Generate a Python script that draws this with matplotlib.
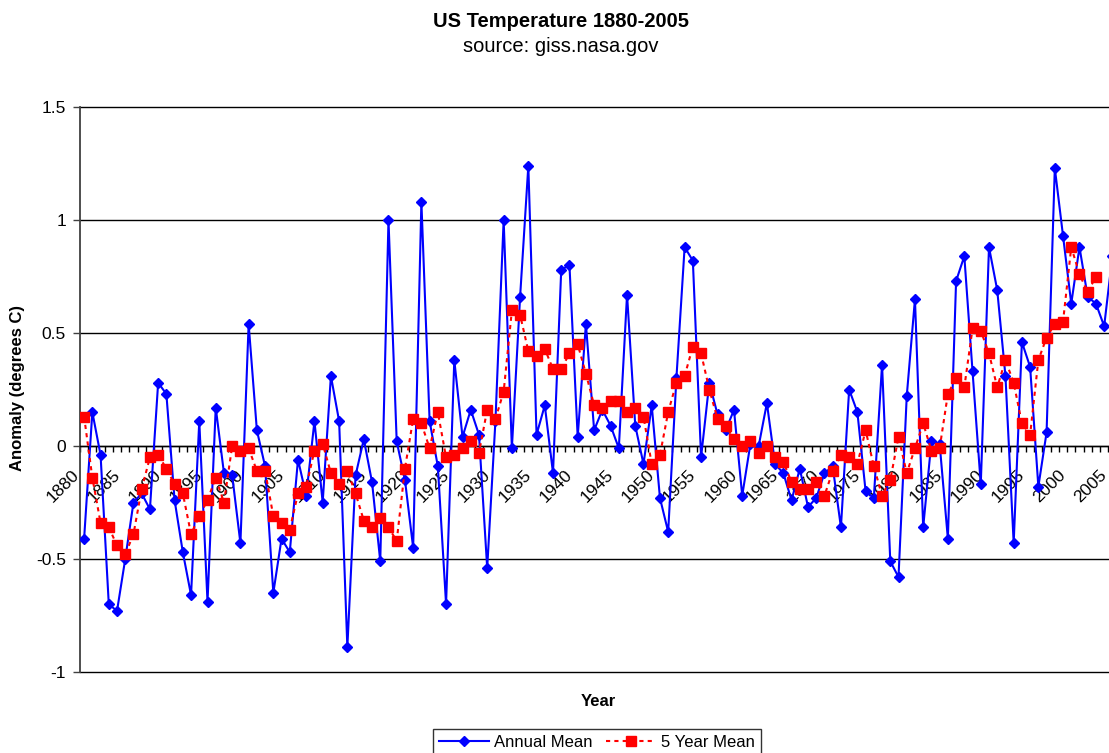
import matplotlib
matplotlib.use("Agg")
import matplotlib.pyplot as plt
from matplotlib.transforms import ScaledTranslation
import numpy as np

plt.rcParams['font.family'] = ['Liberation Sans', 'DejaVu Sans']

years = list(range(1880, 2006))
annual_mean = [
    -0.41, 0.15, -0.04, -0.70, -0.73, -0.50, -0.25, -0.21, -0.28, 0.28,
    0.23, -0.24, -0.47, -0.66, 0.11, -0.69, 0.17, -0.12, -0.13, -0.43,
    0.54, 0.07, -0.09, -0.65, -0.41, -0.47, -0.06, -0.22, 0.11, -0.25,
    0.31, 0.11, -0.89, -0.13, 0.03, -0.16, -0.51, 1.00, 0.02, -0.15,
    -0.45, 1.08, 0.11, -0.09, -0.70, 0.38, 0.04, 0.16, 0.05, -0.54,
    0.11, 1.00, -0.01, 0.66, 1.24, 0.05, 0.18, -0.12, 0.78, 0.80,
    0.04, 0.54, 0.07, 0.16, 0.09, -0.01, 0.67, 0.09, -0.08, 0.18,
    -0.23, -0.38, 0.30, 0.88, 0.82, -0.05, 0.28, 0.14, 0.07, 0.16,
    -0.22, 0.01, 0.00, 0.19, -0.08, -0.12, -0.24, -0.10, -0.27, -0.23,
    -0.12, -0.09, -0.36, 0.25, 0.15, -0.20, -0.23, 0.36, -0.51, -0.58,
    0.22, 0.65, -0.36, 0.02, 0.01, -0.41, 0.73, 0.84, 0.33, -0.17,
    0.88, 0.69, 0.31, -0.43, 0.46, 0.35, -0.18, 0.06, 1.23, 0.93,
    0.63, 0.88, 0.66, 0.63, 0.53, 0.84,
]

mean_years = list(range(1880, 2004))
five_year_mean = [
    0.13, -0.14, -0.34, -0.36, -0.44, -0.48, -0.39, -0.19, -0.05, -0.04,
    -0.10, -0.17, -0.21, -0.39, -0.31, -0.24, -0.14, -0.25, 0.00, -0.02,
    -0.01, -0.11, -0.11, -0.31, -0.34, -0.37, -0.21, -0.18, -0.02, 0.01,
    -0.12, -0.17, -0.11, -0.21, -0.33, -0.36, -0.32, -0.36, -0.42, -0.10,
    0.12, 0.10, -0.01, 0.15, -0.05, -0.04, -0.01, 0.02, -0.03, 0.16,
    0.12, 0.24, 0.60, 0.58, 0.42, 0.40, 0.43, 0.34, 0.34, 0.41,
    0.45, 0.32, 0.18, 0.17, 0.20, 0.20, 0.15, 0.17, 0.13, -0.08,
    -0.04, 0.15, 0.28, 0.31, 0.44, 0.41, 0.25, 0.12, 0.09, 0.03,
    0.00, 0.02, -0.03, 0.00, -0.05, -0.07, -0.16, -0.19, -0.19, -0.16,
    -0.22, -0.11, -0.04, -0.05, -0.08, 0.07, -0.09, -0.22, -0.15, 0.04,
    -0.12, -0.01, 0.10, -0.02, -0.01, 0.23, 0.30, 0.26, 0.52, 0.51,
    0.41, 0.26, 0.38, 0.28, 0.10, 0.05, 0.38, 0.48, 0.54, 0.55,
    0.88, 0.76, 0.68, 0.75,
]

label_years = list(range(1880, 2006, 5))
y_ticks = [-1, -0.5, 0, 0.5, 1, 1.5]
y_tick_labels = ['-1', '-0.5', '0', '0.5', '1', '1.5']

W, H = 1109, 753
fig = plt.figure(figsize=(W / 100, H / 100), dpi=100)
ax = fig.add_axes([80 / W, 1 - 672 / H, 1036.5 / W, (672 - 107) / H])

ax.plot(years, annual_mean, color='#0000FF', lw=1.5, marker='D', markersize=5,
        label='Annual Mean', zorder=3)
ax.plot(mean_years, five_year_mean, color='#FF0000', lw=1.5, linestyle=(0, (2, 2)),
        marker='s', markersize=7, label='5 Year Mean', zorder=4)

ax.set_xlim(1879.5, 2005.5)
ax.set_ylim(-1, 1.5)
ax.set_yticks(y_ticks)
ax.set_yticklabels(y_tick_labels, fontsize=12.5)
ax.yaxis.grid(True, color='black', lw=1)
ax.set_axisbelow(True)
for gl in ax.get_ygridlines():
    gl.set_clip_on(False)

for s in ['top', 'right']:
    ax.spines[s].set_visible(False)
ax.spines['bottom'].set_position(('data', 0))
ax.spines['bottom'].set_color('black')
ax.spines['bottom'].set_linewidth(1)
ax.spines['left'].set_color('#404040')
ax.spines['left'].set_linewidth(1.3)

ax.set_xticks(label_years)
ax.set_xticklabels([str(y) for y in label_years], fontsize=12.5, rotation=45,
                   ha='right', rotation_mode='anchor')
ax.set_xticks(np.arange(1879.5, 2006, 1), minor=True)
ax.tick_params(axis='x', which='major', length=0, pad=15)
ax.tick_params(axis='x', which='minor', length=4, width=1, direction='out', color='black')
ax.tick_params(axis='y', which='major', length=5, width=1, direction='out', pad=5, color='#404040')
offset = ScaledTranslation(-13 / 100, 0, fig.dpi_scale_trans)
for lab in ax.get_xticklabels():
    lab.set_transform(lab.get_transform() + offset)

fig.text(561 / W, 1 - 27 / H, 'US Temperature 1880-2005', fontsize=14.5,
         fontweight='bold', ha='center', va='baseline')
fig.text(561 / W, 1 - 52 / H, 'source: giss.nasa.gov', fontsize=14.5,
         ha='center', va='baseline')
fig.text(18 / W, 1 - 388 / H, 'Anomaly (degrees C)', fontsize=12, fontweight='bold',
         rotation=90, ha='center', va='center')
fig.text(598 / W, 1 - 706 / H, 'Year', fontsize=12, fontweight='bold',
         ha='center', va='baseline')

leg = fig.legend(loc='upper center', bbox_to_anchor=(597 / W, 1 - 729 / H),
                 bbox_transform=fig.transFigure, ncol=2, fontsize=12,
                 frameon=True, fancybox=False, edgecolor='black', borderaxespad=0,
                 handlelength=3.0, handletextpad=0.3, columnspacing=0.8,
                 borderpad=0.35, numpoints=1)
leg.get_frame().set_linewidth(1)

fig.savefig('out.png', dpi=100)
